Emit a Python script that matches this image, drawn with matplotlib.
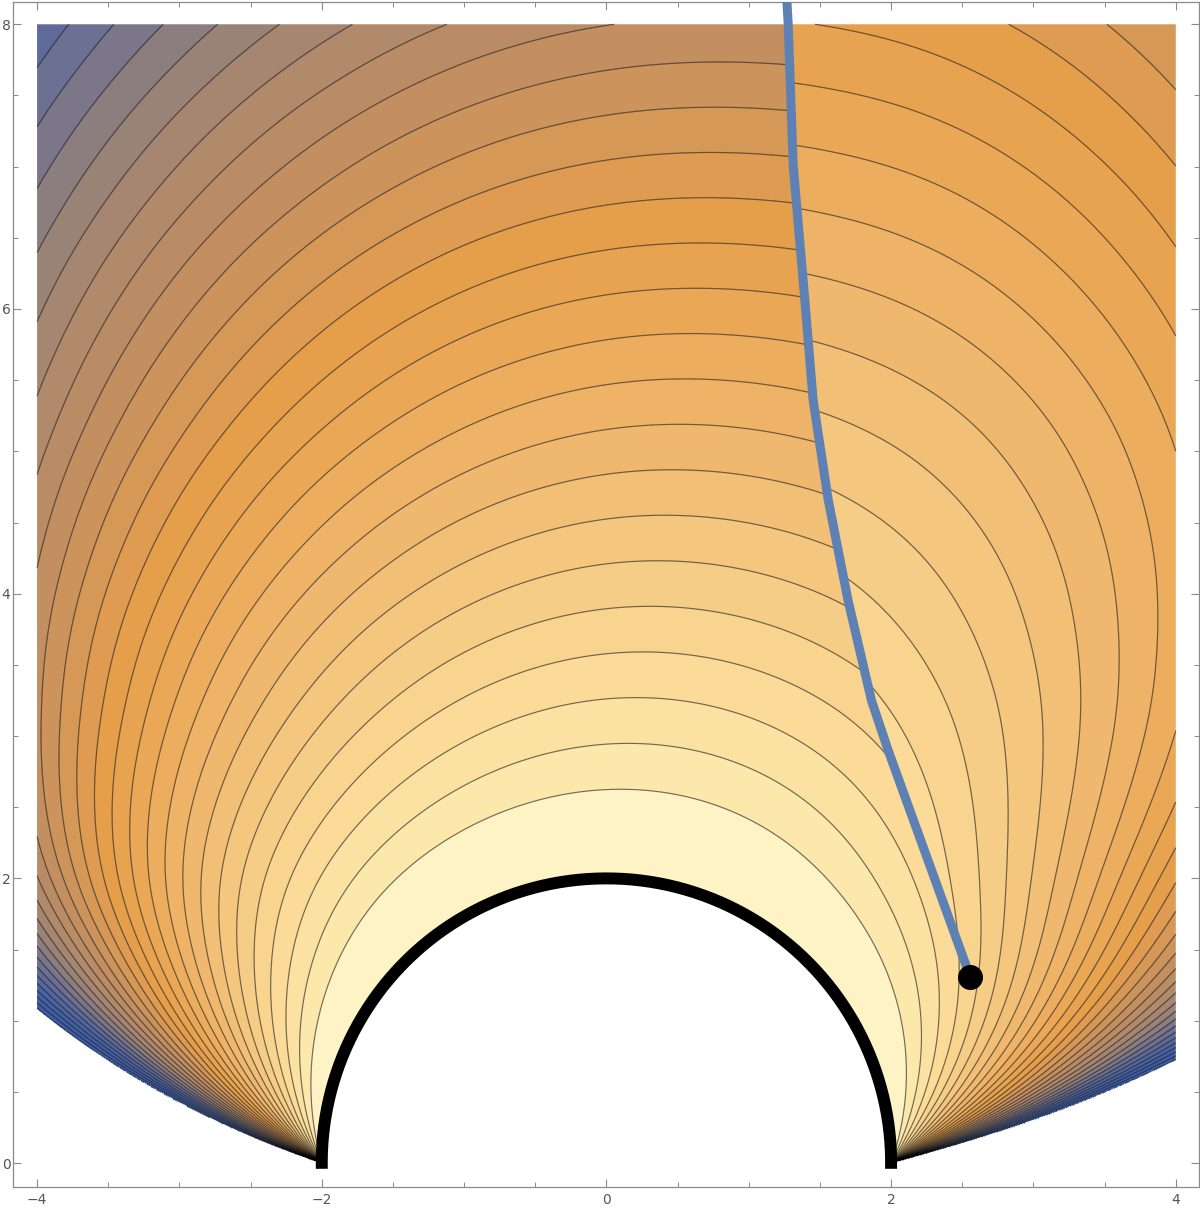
import numpy as np
import matplotlib
matplotlib.use("Agg")
import matplotlib.pyplot as plt
from matplotlib.ticker import MultipleLocator

# apex of each contour line above the circle (height, sideways offset)
apex_y = [2.615, 2.93, 3.247, 3.56, 3.88, 4.19, 4.51, 4.83, 5.15, 5.47,
          5.79, 6.10, 6.42, 6.74, 7.07, 7.38, 7.70]
apex_x = [0.08, 0.13, 0.18, 0.21, 0.25, 0.29, 0.33, 0.36, 0.41, 0.43,
          0.46, 0.48, 0.50, 0.53, 0.55, 0.57, 0.60]

# branch cut (blue curve), starting at the branch point (black dot)
cut_x = [2.557, 1.979, 1.862, 1.698, 1.558, 1.452, 1.394, 1.312, 1.277, 1.26]
cut_y = [1.304, 2.90, 3.25, 3.95, 4.66, 5.36, 6.06, 7.01, 8.0, 8.3]

# band colours, by contour index counted outward from the circle
band_n = [0, 1.5, 4, 8, 11, 13.5, 15, 17, 19, 21, 22.5, 24, 26, 28, 31]
band_rgb = [(254, 243, 196), (253, 232, 172), (250, 216, 146), (240, 187, 114),
            (235, 170, 90), (229, 158, 74), (218, 154, 84), (199, 144, 95),
            (182, 139, 104), (160, 132, 114), (140, 125, 126), (114, 115, 142),
            (88, 104, 157), (70, 97, 165), (58, 92, 170)]

R = 2.0          # radius of the black semicircle
n_last = 31.2    # plotted range ends around this contour index (white beyond)


def smooth_shift(y):
    # sideways offset of the contour family, smoothed along y
    yf = np.linspace(-2, 10, 1201)
    sf = np.interp(yf, [0.0, R] + apex_y + [8.4], [0.0, 0.0] + apex_x + [0.64])
    k = np.exp(-0.5 * (np.arange(-60, 61) * 0.01 / 0.25) ** 2)
    sf = np.convolve(sf, k / k.sum(), mode="same")
    return np.interp(y, yf, sf)


def field(X, Y):
    # sheared bipolar coordinate: apex height of the circle through (+-2, 0)
    xp = X - smooth_shift(Y)
    c = (xp ** 2 + Y ** 2 - R ** 2) / (2 * Y)
    h = c + np.sqrt(c ** 2 + R ** 2)

    # angle around the branch point, measured clockwise from the cut
    px, py = cut_x[0], cut_y[0]
    cx = np.array(cut_x[1:]) - px
    cy = np.array(cut_y[1:]) - py
    cr = np.hypot(cx, cy)
    ca = np.unwrap(np.arctan2(cy, cx))
    wr = np.hypot(X - px, Y - py)
    wa = np.arctan2(Y - py, X - px)
    phi = np.mod(np.interp(wr, cr, ca) - wa, 2 * np.pi)

    # smooth squeeze on the right plus a part that jumps across the cut
    squeeze = 0.38 / (1 + np.exp(-(X - 1.8) / 0.6)) * np.exp(-Y / 3.5)
    branch = 0.26 * (1 - np.exp(-(wr / 2.5) ** 2)) * (1 - phi / (2 * np.pi)) ** 1.5
    return R + (h - R) * (1 - squeeze - branch)


xs = np.linspace(-4, 4, 1401)
ys = np.linspace(1e-4, 8, 1401)
X, Y = np.meshgrid(xs, ys)
H = field(X, Y)

step = (apex_y[-1] - apex_y[0]) / (len(apex_y) - 1)
h_clip = apex_y[0] + step * (n_last - 1)
H[np.hypot(X, Y) < R] = np.nan
H[H > h_clip] = np.nan

levels = apex_y[0] + step * np.arange(0, 40)
levels = levels[levels < h_clip]
bounds = np.concatenate([[R - 0.01], levels, [h_clip]])

mids = 0.5 * (bounds[:-1] + bounds[1:])
n_mid = (mids - apex_y[0]) / step + 1
rgb = np.array(band_rgb) / 255.0
band_colors = [tuple(np.interp(n, band_n, rgb[:, k]) for k in range(3)) for n in n_mid]

fig = plt.figure(figsize=(12, 12.09), dpi=100)
ax = fig.add_axes([13.3 / 1200, 1 - 1187.3 / 1209, (1199 - 13.3) / 1200, (1187.3 - 1.5) / 1209])

ax.contourf(X, Y, H, levels=bounds, colors=band_colors, antialiased=True)
ax.contour(X, Y, H, levels=levels, colors="k", linewidths=0.85, alpha=0.55)

t = np.linspace(-0.02, np.pi + 0.02, 400)
ax.plot(R * np.cos(t), R * np.sin(t), color="k", lw=8.6, solid_capstyle="butt", zorder=3)

ax.plot(cut_x, cut_y, color=(0.368, 0.507, 0.71), lw=6.5,
        solid_capstyle="butt", solid_joinstyle="round", zorder=4)
ax.plot(cut_x[0], cut_y[0], "o", ms=17, color="k", zorder=5)

ax.set_xlim(-4.167, 4.163)
ax.set_ylim(-0.17, 8.16)
ax.set_xticks([-4, -2, 0, 2, 4])
ax.set_yticks([0, 2, 4, 6, 8])
ax.xaxis.set_minor_locator(MultipleLocator(0.5))
ax.yaxis.set_minor_locator(MultipleLocator(0.5))
ax.tick_params(which="both", direction="in", top=True, right=True,
               color="#8a8a8a", labelcolor="#555555", labelsize=10)
ax.tick_params(which="major", length=5.5, width=0.8)
ax.tick_params(which="minor", length=3.5, width=0.7)
ax.tick_params(axis="y", pad=2)
ax.tick_params(axis="x", pad=4)
for sp in ax.spines.values():
    sp.set_color("#8a8a8a")
    sp.set_linewidth(0.9)

fig.savefig("out.png", dpi=100)
